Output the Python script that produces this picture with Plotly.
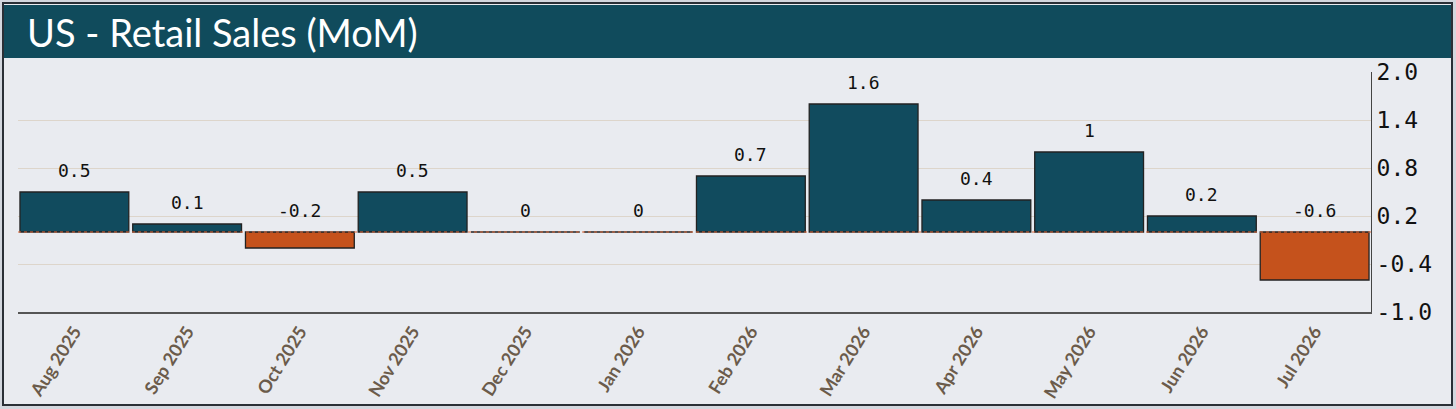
import plotly.graph_objects as go

# Monthly retail sales change, percent
months = ["Aug 2025", "Sep 2025", "Oct 2025", "Nov 2025", "Dec 2025", "Jan 2026",
          "Feb 2026", "Mar 2026", "Apr 2026", "May 2026", "Jun 2026", "Jul 2026"]
mom = [0.5, 0.1, -0.2, 0.5, 0, 0, 0.7, 1.6, 0.4, 1, 0.2, -0.6]
y_ticks = [2.0, 1.4, 0.8, 0.2, -0.4, -1.0]

TEAL = "#114b5e"
ORANGE = "#c5521c"
BG = "#e9ebf0"

W, H = 1456, 409
ML, MR, MT, MB = 18, 85, 72, 97
PW, PH = W - ML - MR, H - MT - MB


def px_x(p):
    return (p - ML) / PW


def px_y(p):
    return (H - MB - p) / PH


colors = [ORANGE if v < 0 else TEAL for v in mom]

fig = go.Figure()

fig.add_trace(go.Bar(
    x=months,
    y=mom,
    marker=dict(color=colors, line=dict(color="#222222", width=1.3)),
    hoverinfo="x+y",
    showlegend=False,
))

# value labels always sit above the zero line / bar top
for m, v in zip(months, mom):
    fig.add_annotation(x=m, y=max(v, 0), text=f"{v:g}", showarrow=False,
                       yanchor="bottom", yshift=9,
                       font=dict(family="DejaVu Sans Mono", size=18, color="#111111"))

# zero reference line
fig.add_shape(type="line", xref="paper", yref="y", x0=0, x1=1, y0=0, y1=0,
              line=dict(color="#e06a3a", width=1, dash="dot"), layer="above")

# outer frame and title band
fig.add_shape(type="rect", xref="paper", yref="paper",
              x0=px_x(3), x1=px_x(W - 4), y0=px_y(H - 4), y1=px_y(3),
              fillcolor=BG, line=dict(color="#2a2f36", width=2), layer="below")
fig.add_shape(type="rect", xref="paper", yref="paper",
              x0=px_x(4), x1=px_x(W - 5), y0=px_y(58), y1=px_y(5),
              fillcolor="#104b5c", line=dict(width=0), layer="below")
fig.add_annotation(text="US - Retail Sales (MoM)", xref="paper", yref="paper",
                   x=px_x(25), y=px_y(32), xanchor="left", yanchor="middle",
                   showarrow=False, font=dict(family="Lato", size=38, color="white"))

fig.update_layout(
    width=W,
    height=H,
    margin=dict(l=ML, r=MR, t=MT, b=MB),
    paper_bgcolor="#d3d7de",
    plot_bgcolor=BG,
    bargap=0.035,
    xaxis=dict(
        tickangle=-58,
        tickfont=dict(family="Lato", size=18, color="#6b5b4b", weight="bold"),
        showgrid=False,
        showline=True,
        linecolor="#555555",
        linewidth=2,
        ticks="",
        automargin=False,
    ),
    yaxis=dict(
        side="right",
        range=[-1.0, 2.0],
        tickvals=y_ticks,
        ticktext=[f"{t:.1f}" for t in y_ticks],
        tickfont=dict(family="DejaVu Sans Mono", size=23, color="#111111"),
        showgrid=True,
        gridcolor="#ddd5cb",
        gridwidth=1,
        zeroline=False,
        showline=True,
        linecolor="#444444",
        linewidth=1,
        ticks="",
        automargin=False,
    ),
)

fig.write_html("out.html", config={"displayModeBar": False},
               post_script="document.body.style.margin='0';")
